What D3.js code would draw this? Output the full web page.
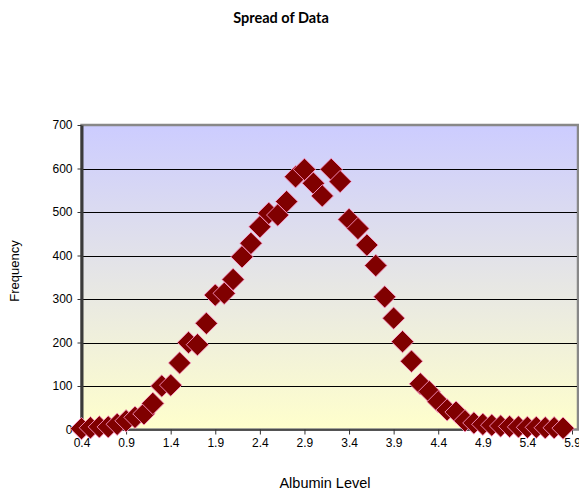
<!DOCTYPE html>
<html>
<head>
<meta charset="utf-8">
<script src="https://cdn.jsdelivr.net/npm/d3@7"></script>
<style>
  body { margin: 0; background: #fff; }
  svg { display: block; }
</style>
</head>
<body>
<div id="chart"></div>
<script>
// albumin levels (x) and how often each one occurs (y)
var albumin = [0.4, 0.5, 0.6, 0.7, 0.8, 0.9, 1.0, 1.1, 1.2, 1.3,
               1.4, 1.5, 1.6, 1.7, 1.8, 1.9, 2.0, 2.1, 2.2, 2.3,
               2.4, 2.5, 2.6, 2.7, 2.8, 2.9, 3.0, 3.1, 3.2, 3.3,
               3.4, 3.5, 3.6, 3.7, 3.8, 3.9, 4.0, 4.1, 4.2, 4.3,
               4.4, 4.5, 4.6, 4.7, 4.8, 4.9, 5.0, 5.1, 5.2, 5.3,
               5.4, 5.5, 5.6, 5.7, 5.8];
var frequency = [2, 4, 6, 6, 12, 20, 28, 36, 60, 100,
                 102, 153, 200, 195, 244, 309, 313, 345, 397, 428,
                 466, 497, 493, 524, 581, 598, 566, 537, 598, 570,
                 483, 462, 424, 377, 305, 256, 202, 157, 105, 87,
                 64, 45, 40, 20, 15, 12, 10, 8, 7, 6,
                 5, 5, 4, 4, 3];
var xTicks = [0.4, 0.9, 1.4, 1.9, 2.4, 2.9, 3.4, 3.9, 4.4, 4.9, 5.4, 5.9];
var yTicks = [0, 100, 200, 300, 400, 500, 600, 700];

var width = 579, height = 491;
var plot = {left: 81.5, right: 578, top: 125, bottom: 429.5};

var svg = d3.select("#chart").append("svg")
    .attr("width", width)
    .attr("height", height);

var x = d3.scaleLinear().domain([0.4, 5.9]).range([plot.left, 572]);
var y = d3.scaleLinear().domain([0, 700]).range([plot.bottom, plot.top]);

// plot background, blue at the top fading to pale yellow
var grad = svg.append("defs").append("linearGradient")
    .attr("id", "bg")
    .attr("x1", 0).attr("y1", 0).attr("x2", 0).attr("y2", 1);
grad.append("stop").attr("offset", "0%").attr("stop-color", "#ccccff");
grad.append("stop").attr("offset", "100%").attr("stop-color", "#ffffcc");

svg.append("rect")
    .attr("x", plot.left)
    .attr("y", plot.top)
    .attr("width", plot.right - plot.left)
    .attr("height", plot.bottom - plot.top)
    .attr("fill", "url(#bg)")
    .attr("stroke", "#888")
    .attr("stroke-width", 2.5);

// horizontal grid lines
svg.append("g")
    .selectAll("line")
    .data(yTicks.filter(function (d) { return d > 0 && d < 700; }))
    .enter()
    .append("line")
    .attr("x1", plot.left)
    .attr("x2", plot.right - 1)
    .attr("y1", function (d) { return Math.round(y(d)) + 0.5; })
    .attr("y2", function (d) { return Math.round(y(d)) + 0.5; })
    .attr("stroke", "#000")
    .attr("stroke-width", 1);

// axes
var yAxis = svg.append("g")
    .attr("transform", "translate(" + plot.left + ",0)")
    .call(d3.axisLeft(y).tickValues(yTicks).tickSize(4).tickPadding(5).tickSizeOuter(0));
var xAxis = svg.append("g")
    .attr("transform", "translate(0," + plot.bottom + ")")
    .call(d3.axisBottom(x).tickValues(xTicks).tickSize(5).tickPadding(4).tickSizeOuter(0)
        .tickFormat(d3.format(".1f")));

[yAxis, xAxis].forEach(function (g) {
    g.selectAll("text")
        .attr("font-family", "'Liberation Sans', Arial, sans-serif")
        .attr("font-size", 12)
        .attr("fill", "#000");
    g.selectAll(".tick line").attr("stroke", "#333");
    g.select(".domain").attr("stroke", "#3a3a3a").attr("stroke-width", 3);
});
xAxis.select(".domain").attr("stroke-width", 1.5);

// the data markers, diamonds drawn in order so each covers the one before
var diamond = d3.symbol().type(d3.symbolSquare).size(250);
svg.append("g")
    .selectAll("path")
    .data(albumin)
    .enter()
    .append("path")
    .attr("d", diamond)
    .attr("transform", function (d, i) {
        return "translate(" + x(d) + "," + y(frequency[i]) + ") rotate(45)";
    })
    .attr("fill", "#800000")
    .attr("stroke", "#ff99cc")
    .attr("stroke-width", 0.8);

// titles
svg.append("text")
    .attr("x", 281)
    .attr("y", 23)
    .attr("text-anchor", "middle")
    .attr("font-family", "Lato, 'Open Sans', sans-serif")
    .attr("font-weight", "bold")
    .attr("font-size", 14.5)
    .text("Spread of Data");

svg.append("text")
    .attr("x", 325)
    .attr("y", 488)
    .attr("text-anchor", "middle")
    .attr("font-family", "'Liberation Sans', Arial, sans-serif")
    .attr("font-size", 14.5)
    .text("Albumin Level");

svg.append("text")
    .attr("transform", "translate(19,271) rotate(-90)")
    .attr("text-anchor", "middle")
    .attr("font-family", "'Liberation Sans', Arial, sans-serif")
    .attr("font-size", 13)
    .text("Frequency");
</script>
</body>
</html>
